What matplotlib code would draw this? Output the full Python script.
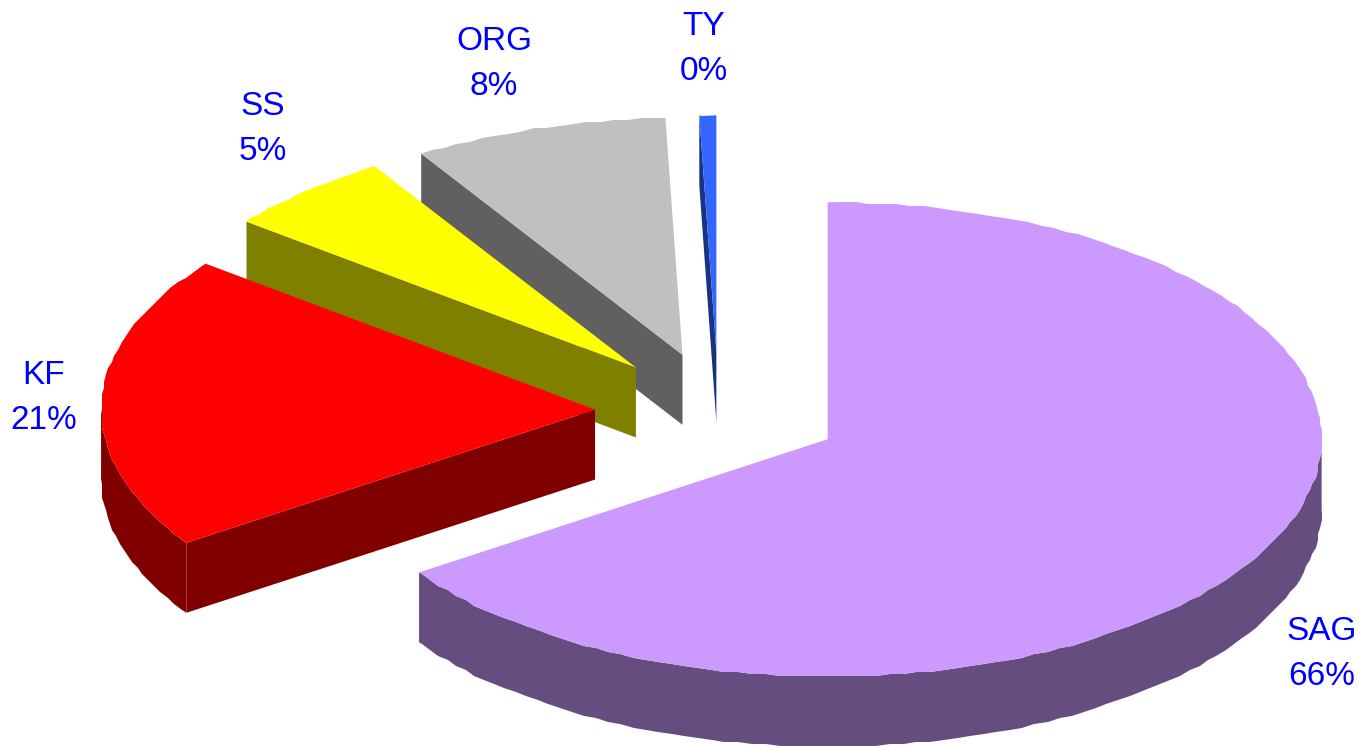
import numpy as np
import matplotlib
matplotlib.use('Agg')
import matplotlib.pyplot as plt

plt.rcParams['font.family'] = ['Liberation Sans', 'DejaVu Sans']

# 数据
names = ['SAG', 'KF', 'SS', 'ORG', 'TY']
shares = [65.5, 20.05, 5.58, 8.32, 0.55]
pct_labels = ['66%', '21%', '5%', '8%', '0%']
top_colors = ['#CC99FF', '#FF0000', '#FFFF00', '#C0C0C0', '#3366FF']
side_colors = ['#664D80', '#800000', '#808000', '#606060', '#1A3380']
label_xy = [(1322, 654), (44, 398), (263, 129), (494, 64), (704, 49)]

# 饼图几何参数 (像素)
cx, cy = 718.5, 411.5
rx, ry = 494.0, 237.0
depth = 70.0
explode = 0.25


def rim(a0, a1, ox, oy):
    """边缘点，角度从12点方向顺时针；中间点取整做出锯齿"""
    grid = np.arange(0, 360, 1.6)
    grid = grid[(grid > a0) & (grid < a1)]
    ang = np.radians(np.r_[a0, grid, a1])
    x = ox + rx * np.sin(ang)
    y = oy - ry * np.cos(ang)
    x[1:-1] = np.round(x[1:-1] / 2) * 2
    y[1:-1] = np.round(y[1:-1] / 2) * 2
    return x, y


fig = plt.figure(figsize=(13.62, 7.46), dpi=100)
ax = fig.add_axes([0, 0, 1, 1])
ax.set_xlim(0, 1362)
ax.set_ylim(746, 0)
ax.axis('off')

fractions = np.array(shares) / sum(shares) * 360
ends = np.cumsum(fractions)
starts = ends - fractions

# 从后往前画: TY, ORG, SS, KF, SAG
for i in range(len(names) - 1, -1, -1):
    mid = np.radians((starts[i] + ends[i]) / 2)
    ox = cx + explode * rx * np.sin(mid)
    oy = cy - explode * ry * np.cos(mid)
    x, y = rim(starts[i], ends[i], ox, oy)

    # 切面
    ax.fill([ox, x[0], x[0], ox], [oy, y[0], y[0] + depth, oy + depth],
            color=side_colors[i], lw=0)

    # 外侧面, 只有朝下的部分看得见
    lo, hi = max(starts[i], 90), min(ends[i], 270)
    if hi > lo:
        sx, sy = rim(lo, hi, ox, oy)
        ax.fill(np.r_[sx, sx[::-1]], np.r_[sy, sy[::-1] + depth],
                color=side_colors[i], lw=0)

    # 顶面
    ax.fill(np.r_[ox, x], np.r_[oy, y], color=top_colors[i], lw=0)

    ax.text(label_xy[i][0], label_xy[i][1], names[i] + '\n' + pct_labels[i],
            color='#0000FF', fontsize=24, ha='center', va='center',
            linespacing=1.6)

fig.savefig('out.png', dpi=100, facecolor='white')
